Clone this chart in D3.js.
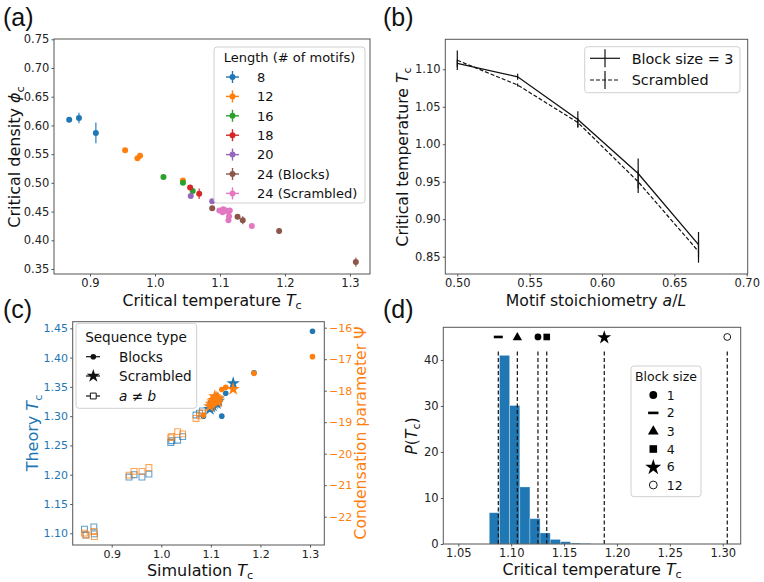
<!DOCTYPE html>
<html><head><meta charset="utf-8">
<script src="https://cdn.jsdelivr.net/npm/d3@7"></script>
<style>
body{margin:0;background:#fff}
svg{display:block;font-family:"DejaVu Sans",sans-serif}
</style></head><body>
<svg id="c" width="764" height="582"></svg>
<script>
// ---------------- DATA ----------------
// (a) critical density vs critical temperature, by chain length
const aGroups = ["8","12","16","18","20","24 (Blocks)","24 (Scrambled)"];
const aColors = ["#1f77b4","#ff7f0e","#2ca02c","#d62728","#9467bd","#8c564b","#e377c2"];
const aTc = [
  [0.868,0.883,0.909],
  [0.954,0.973,0.977,1.043],
  [1.013,1.043,1.058],
  [1.054,1.068],
  [1.055,1.088],
  [1.088,1.107,1.127,1.135,1.191,1.309],
  [1.099,1.104,1.105,1.109,1.113,1.115,1.114,1.113,1.149]
];
const aPhi = [
  [0.610,0.613,0.587],
  [0.557,0.543,0.547,0.504],
  [0.510,0.500,0.486],
  [0.492,0.481],
  [0.477,0.468],
  [0.456,0.452,0.441,0.435,0.416,0.362],
  [0.452,0.449,0.454,0.452,0.450,0.452,0.442,0.435,0.425]
];
const aPhiErr = [
  [0.002,0.009,0.018],
  [0.002,0.003,0.003,0.002],
  [0.002,0.002,0.002],
  [0.003,0.009],
  [0.002,0.002],
  [0.003,0.003,0.004,0.007,0.005,0.008],
  [0.004,0.004,0.004,0.004,0.004,0.004,0.004,0.004,0.003]
];
const aTcErr = 0.003;
const aXTicks = [0.9,1.0,1.1,1.2,1.3];
const aYTicks = [0.35,0.40,0.45,0.50,0.55,0.60,0.65,0.70,0.75];

// (b) Tc vs motif stoichiometry
const bX = [0.5,0.5417,0.5833,0.625,0.6667];
const bBlockT = [1.108,1.090,1.033,0.961,0.866];
const bBlockErr = [0.005,0.004,0.011,0.020,0.017];
const bScrT = [1.112,1.079,1.029,0.950,0.857];
const bScrErr = [0.013,0.002,0.006,0.015,0.015];
const bXTicks = [0.50,0.55,0.60,0.65,0.70];
const bYTicks = [0.85,0.90,0.95,1.00,1.05,1.10];

// (c) theory Tc and condensation parameter vs simulation Tc
const cBlockSim = [1.085,1.105,1.122,1.130,1.187,1.305];
const cBlockTheory = [1.300,1.318,1.300,1.339,1.374,1.445];
const cBlockPsi = [-18.77,-18.21,-17.96,-17.89,-17.45,-16.92];
const cScrSim = [1.098,1.101,1.104,1.106,1.108,1.110,1.112,1.114,1.115,1.145];
const cScrTheory = [1.312,1.316,1.318,1.322,1.324,1.326,1.322,1.330,1.326,1.356];
const cScrPsi = [-18.50,-18.42,-18.35,-18.30,-18.18,-18.28,-18.22,-18.35,-18.26,-17.95];
const cAbSim = [0.845,0.848,0.864,0.865,0.935,0.945,0.961,0.975,1.019,1.021,1.033,1.043,1.070,1.077,1.083];
const cAbTheory = [1.107,1.097,1.111,1.099,1.196,1.200,1.196,1.201,1.255,1.258,1.259,1.265,1.302,1.305,1.309];
const cAbPsi = [-22.52,-22.58,-22.47,-22.63,-20.68,-20.56,-20.56,-20.44,-19.49,-19.45,-19.30,-19.37,-18.88,-18.80,-18.71];
const cXTicks = [0.9,1.0,1.1,1.2,1.3];
const cYTicks = [1.10,1.15,1.20,1.25,1.30,1.35,1.40,1.45];
const cY2Ticks = [-22,-21,-20,-19,-18,-17,-16];

// (d) histogram of Tc for scrambled sequences + block sequences
const dEdges = [1.0793,1.0889,1.0985,1.1081,1.1177,1.1273,1.1369,1.1465,1.1561,1.1657,1.1753];
const dHeights = [6.8,41.0,30.1,12.4,5.5,2.4,1.0,0.5,0.2,0.1];
const dBlockSizes = ["1","2","3","4","6","12"];
const dBlockTc = [1.1253,1.0878,1.1058,1.1336,1.188,1.3043];
const dMarkerP = 45;
const dLineTop = 42.4;
const dXTicks = [1.05,1.10,1.15,1.20,1.25,1.30];
const dYTicks = [0,10,20,30,40];

// ---------------- DRAW ----------------
const svg = d3.select("#c");
const BLUE = "#1f77b4", ORANGE = "#ff7f0e";
const SPINE = "#555", TICKC = "#222";

function frame(x, y){
  const [x0,x1] = x.range(), [y1,y0] = y.range();
  svg.append("rect").attr("x",x0).attr("y",y0).attr("width",x1-x0).attr("height",y1-y0)
    .attr("fill","none").attr("stroke",SPINE).attr("stroke-width",1);
}
function axis(kind, scale, pos, ticks, fmt, fs, color){
  const gen = kind==="b" ? d3.axisBottom(scale) : kind==="l" ? d3.axisLeft(scale) : d3.axisRight(scale);
  gen.tickValues(ticks).tickFormat(fmt).tickSize(2.5).tickPadding(2.2);
  const tr = kind==="b" ? `translate(0,${pos})` : `translate(${pos},0)`;
  const g = svg.append("g").attr("transform",tr).call(gen);
  g.attr("font-family","DejaVu Sans").attr("font-size",fs);
  g.select(".domain").remove();
  g.selectAll(".tick line").attr("stroke",SPINE).attr("stroke-width",1);
  g.selectAll(".tick text").attr("fill",color||TICKC);
  return g;
}
function mtext(x, y, parts, o){
  o = o||{};
  const fs = o.fs||15.7;
  const t = svg.append("text").attr("x",x).attr("y",y).attr("font-size",fs)
    .attr("text-anchor",o.anchor||"middle").attr("fill",o.color||"#111")
    .attr("font-family",o.family||"DejaVu Sans");
  if(o.rot) t.attr("transform",`rotate(-90,${x},${y})`);
  let shifted = 0;
  parts.forEach(p=>{
    const ts = t.append("tspan").text(p.t);
    if(p.i) ts.attr("font-style","italic");
    if(p.sub){ ts.attr("font-size",fs*0.7).attr("dy",fs*0.22); shifted = fs*0.22; }
    else if(shifted){ ts.attr("dy",-shifted); shifted = 0; }
  });
  return t;
}
function legendBox(x,y,w,h){
  svg.append("rect").attr("x",x).attr("y",y).attr("width",w).attr("height",h).attr("rx",3)
    .attr("fill","#fff").attr("fill-opacity",0.85).attr("stroke","#d0d0d0").attr("stroke-width",1);
}
function sym(type, size){ return d3.symbol().type(type).size(size)(); }

// ===== Panel (a) =====
{
  const x = d3.scaleLinear().domain([0.8446,1.3308]).range([54,370]);
  const y = d3.scaleLinear().domain([0.3413,0.7505]).range([274,39]);
  aGroups.forEach((g,gi)=>{
    const col = aColors[gi];
    const grp = svg.append("g");
    aTc[gi].forEach((t,i)=>{
      const p = aPhi[gi][i], e = aPhiErr[gi][i];
      grp.append("line").attr("x1",x(t)).attr("x2",x(t)).attr("y1",y(p-e)).attr("y2",y(p+e))
        .attr("stroke",col).attr("stroke-width",1.4).attr("stroke-opacity",0.8);
      grp.append("line").attr("x1",x(t-aTcErr)).attr("x2",x(t+aTcErr)).attr("y1",y(p)).attr("y2",y(p))
        .attr("stroke",col).attr("stroke-width",1.4).attr("stroke-opacity",0.8);
      grp.append("circle").attr("cx",x(t)).attr("cy",y(p)).attr("r",3).attr("fill",col);
    });
  });
  frame(x,y);
  axis("b",x,274,aXTicks,d3.format(".1f"),11.5);
  axis("l",y,54,aYTicks,d3.format(".2f"),11.5);
  mtext(212,306,[{t:"Critical temperature "},{t:"T",i:true},{t:"c",sub:true}]);
  mtext(20,157,[{t:"Critical density "},{t:"ϕ",i:true},{t:"c",sub:true}],{rot:true,fs:16});
  // legend
  legendBox(214,47,151,156);
  mtext(289.5,61.5,[{t:"Length (# of motifs)"}],{fs:13});
  const ly = [77,96.4,115.8,135.2,154.6,174,193.4];
  aGroups.forEach((g,gi)=>{
    const col = aColors[gi], yy = ly[gi];
    svg.append("line").attr("x1",226).attr("x2",239).attr("y1",yy).attr("y2",yy).attr("stroke",col).attr("stroke-width",1.4);
    svg.append("line").attr("x1",232.5).attr("x2",232.5).attr("y1",yy-6).attr("y2",yy+6).attr("stroke",col).attr("stroke-width",1.4);
    svg.append("circle").attr("cx",232.5).attr("cy",yy).attr("r",3).attr("fill",col);
    mtext(257,yy+4.7,[{t:g}],{fs:13,anchor:"start"});
  });
  mtext(3,26,[{t:"(a)"}],{fs:25,anchor:"start",family:"Liberation Sans"});
}

// ===== Panel (b) =====
{
  const x = d3.scaleLinear().domain([0.49171,0.7007]).range([445.3,747.7]);
  const y = d3.scaleLinear().domain([0.8269,1.140]).range([274,39.3]);
  const line = d3.line().x((d,i)=>x(bX[i])).y(d=>y(d));
  svg.append("path").attr("d",line(bScrT)).attr("fill","none").attr("stroke","#111").attr("stroke-width",1.2).attr("stroke-dasharray","4,2");
  svg.append("path").attr("d",line(bBlockT)).attr("fill","none").attr("stroke","#111").attr("stroke-width",1.3);
  bX.forEach((v,i)=>{
    svg.append("line").attr("x1",x(v)).attr("x2",x(v)).attr("y1",y(bScrT[i]-bScrErr[i])).attr("y2",y(bScrT[i]+bScrErr[i])).attr("stroke","#111").attr("stroke-width",1.2);
    svg.append("line").attr("x1",x(v)).attr("x2",x(v)).attr("y1",y(bBlockT[i]-bBlockErr[i])).attr("y2",y(bBlockT[i]+bBlockErr[i])).attr("stroke","#111").attr("stroke-width",1.2);
  });
  frame(x,y);
  axis("b",x,274,bXTicks,d3.format(".2f"),11.5);
  axis("l",y,445.3,bYTicks,d3.format(".2f"),11.5);
  mtext(596,306,[{t:"Motif stoichiometry "},{t:"a",i:true},{t:"/"},{t:"L",i:true}]);
  mtext(408,157,[{t:"Critical temperature "},{t:"T",i:true},{t:"c",sub:true}],{rot:true});
  legendBox(584.7,46.7,155.3,46);
  [[58.3,null,"Block size = 3"],[80,"4,2","Scrambled"]].forEach(([yy,dash,lab])=>{
    const l = svg.append("line").attr("x1",590).attr("x2",620).attr("y1",yy).attr("y2",yy).attr("stroke","#111").attr("stroke-width",1.2);
    if(dash) l.attr("stroke-dasharray",dash);
    svg.append("line").attr("x1",605).attr("x2",605).attr("y1",yy-9).attr("y2",yy+9).attr("stroke","#111").attr("stroke-width",1.2);
    mtext(631.7,yy+5.2,[{t:lab}],{fs:14.4,anchor:"start"});
  });
  mtext(383,26,[{t:"(b)"}],{fs:25,anchor:"start",family:"Liberation Sans"});
}

// ===== Panel (c) =====
{
  const x = d3.scaleLinear().domain([0.8213,1.3288]).range([72.7,324.3]);
  const y = d3.scaleLinear().domain([1.080,1.4613]).range([545,321.7]);
  const y2 = d3.scaleLinear().domain([-22.898,-15.81]).range([545,321.7]);
  const sq = sym(d3.symbolSquare,34), st = sym(d3.symbolStar,55);
  function drawSet(ys, scale, col){
    cAbSim.forEach((s,i)=>svg.append("path").attr("d",sq).attr("transform",`translate(${x(s)},${scale(ys.ab[i])})`)
      .attr("fill","none").attr("stroke",col).attr("stroke-opacity",0.7).attr("stroke-width",1.1));
    cBlockSim.forEach((s,i)=>svg.append("circle").attr("cx",x(s)).attr("cy",scale(ys.bl[i])).attr("r",2.8).attr("fill",col));
    cScrSim.forEach((s,i)=>svg.append("path").attr("d",st).attr("transform",`translate(${x(s)},${scale(ys.sc[i])})`).attr("fill",col));
  }
  drawSet({ab:cAbTheory,bl:cBlockTheory,sc:cScrTheory},y,BLUE);
  drawSet({ab:cAbPsi,bl:cBlockPsi,sc:cScrPsi},y2,ORANGE);
  frame(x,y);
  axis("b",x,545,cXTicks,d3.format(".1f"),11);
  axis("l",y,72.7,cYTicks,d3.format(".2f"),11,BLUE);
  axis("r",y2,324.3,cY2Ticks,d3.format("d"),11,ORANGE);
  mtext(200,575.5,[{t:"Simulation "},{t:"T",i:true},{t:"c",sub:true}],{fs:16});
  mtext(38,433,[{t:"Theory "},{t:"T",i:true},{t:"c",sub:true}],{rot:true,color:BLUE,fs:16});
  mtext(366,433,[{t:"Condensation parameter Ψ"}],{rot:true,color:ORANGE,fs:15.7});
  legendBox(76,323.3,120.7,85);
  mtext(136,341.5,[{t:"Sequence type"}],{fs:13.6});
  const ly = [356.7,376,396];
  ly.forEach(yy=>svg.append("line").attr("x1",86).attr("x2",100).attr("y1",yy).attr("y2",yy).attr("stroke","#111").attr("stroke-width",1.2));
  svg.append("circle").attr("cx",93.3).attr("cy",ly[0]).attr("r",2.8).attr("fill","#111");
  svg.append("path").attr("d",st).attr("transform",`translate(93.3,${ly[1]})`).attr("fill","#111");
  svg.append("path").attr("d",sq).attr("transform",`translate(93.3,${ly[2]})`).attr("fill","#fff").attr("stroke","#111").attr("stroke-width",1);
  mtext(119,ly[0]+4.9,[{t:"Blocks"}],{fs:13.6,anchor:"start"});
  mtext(119,ly[1]+4.9,[{t:"Scrambled"}],{fs:13.6,anchor:"start"});
  mtext(119,ly[2]+4.9,[{t:"a",i:true},{t:" ≠ "},{t:"b",i:true}],{fs:13.6,anchor:"start"});
  mtext(3,318,[{t:"(c)"}],{fs:25,anchor:"start",family:"Liberation Sans"});
}

// ===== Panel (d) =====
{
  const x = d3.scaleLinear().domain([1.0358,1.317]).range([443.3,740.7]);
  const y = d3.scaleLinear().domain([0,47.1]).range([544,327.3]);
  dHeights.forEach((h,i)=>{
    svg.append("rect").attr("x",x(dEdges[i])).attr("y",y(h)).attr("width",x(dEdges[i+1])-x(dEdges[i])).attr("height",y(0)-y(h))
      .attr("fill",BLUE).attr("stroke","#fff").attr("stroke-opacity",0.35).attr("stroke-width",0.8);
  });
  dBlockTc.forEach(t=>{
    svg.append("line").attr("x1",x(t)).attr("x2",x(t)).attr("y1",y(0)).attr("y2",y(dLineTop))
      .attr("stroke","#111").attr("stroke-width",1.2).attr("stroke-dasharray","4,2.5");
  });
  function marker(k, cx, cy, s){
    s = s||1;
    if(k==="1") svg.append("circle").attr("cx",cx).attr("cy",cy).attr("r",3.4*s).attr("fill","#000");
    else if(k==="2") svg.append("rect").attr("x",cx-4.5*s).attr("y",cy-1.3).attr("width",9*s).attr("height",2.6).attr("fill","#000");
    else if(k==="3") svg.append("path").attr("d",sym(d3.symbolTriangle,38*s*s)).attr("transform",`translate(${cx},${cy+0.5})`).attr("fill","#000");
    else if(k==="4") svg.append("rect").attr("x",cx-3.3*s).attr("y",cy-3.3*s).attr("width",6.6*s).attr("height",6.6*s).attr("fill","#000");
    else if(k==="6") svg.append("path").attr("d",sym(d3.symbolStar,60*s*s)).attr("transform",`translate(${cx},${cy+0.5})`).attr("fill","#000");
    else svg.append("circle").attr("cx",cx).attr("cy",cy).attr("r",3.4*s).attr("fill","#fff").attr("stroke","#000").attr("stroke-width",0.9);
  }
  dBlockSizes.forEach((b,i)=>marker(b,x(dBlockTc[i]),y(dMarkerP)));
  frame(x,y);
  axis("b",x,544,dXTicks,d3.format(".2f"),11.5);
  axis("l",y,443.3,dYTicks,d3.format("d"),11.5);
  mtext(592,575,[{t:"Critical temperature "},{t:"T",i:true},{t:"c",sub:true}]);
  mtext(417,436,[{t:"P",i:true},{t:"("},{t:"T",i:true},{t:"c",sub:true},{t:")"}],{rot:true});
  legendBox(631,366,70,130.7);
  mtext(666,381,[{t:"Block size"}],{fs:12.5});
  const ly = [395,412.9,431,449,466.9,485];
  dBlockSizes.forEach((b,i)=>{
    marker(b,653.3,ly[i],1.15);
    mtext(666.7,ly[i]+4.5,[{t:b}],{fs:12.5,anchor:"start"});
  });
  mtext(383,318,[{t:"(d)"}],{fs:25,anchor:"start",family:"Liberation Sans"});
}
</script>
</body></html>
